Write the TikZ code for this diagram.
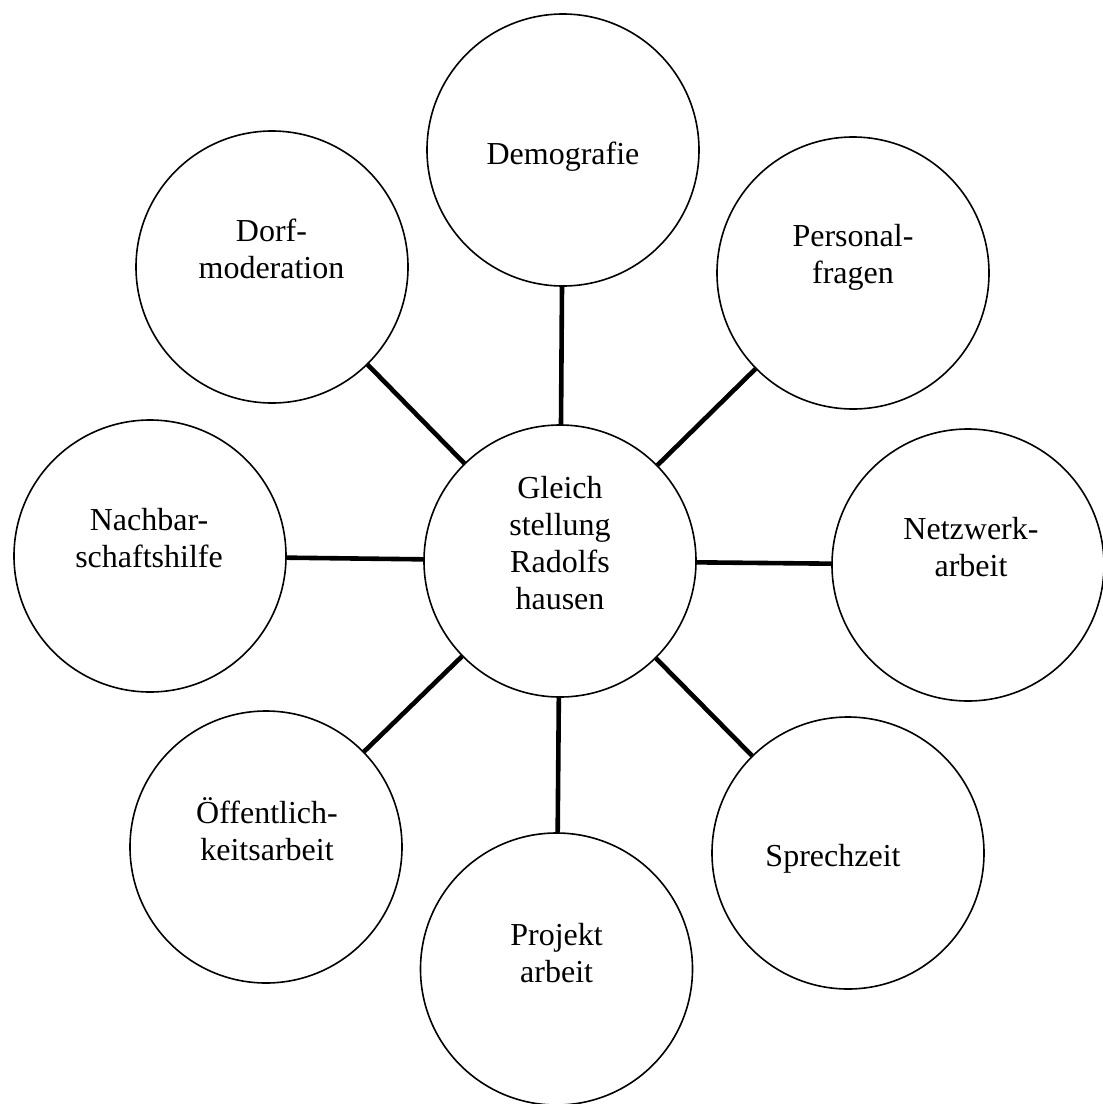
\documentclass[tikz,border=0pt]{standalone}
\usepackage{fontspec}
\setmainfont{Liberation Serif}
\begin{document}
\begin{tikzpicture}[x=0.5pt,y=-0.5pt,
  bubble/.style={circle,draw=black,line width=0.8pt,fill=white,minimum size=136pt,inner sep=0pt},
  bubbletext/.style={align=center,inner sep=0pt,font=\fontsize{16pt}{18.5pt}\selectfont,
    execute at begin node=\strut,execute at end node=\strut},
  conn/.style={line width=2.3pt}]
\useasboundingbox[fill=white] (0,0) rectangle (1103,1104);
% circles
\node[bubble] (c)    at (560,561) {};
\node[bubble] (demo) at (563,150) {};
\node[bubble] (pers) at (853,273) {};
\node[bubble] (netz) at (968,565) {};
\node[bubble] (spre) at (848,853) {};
\node[bubble] (proj) at (556.5,969) {};
\node[bubble] (oeff) at (266,847) {};
\node[bubble] (nach) at (150,556) {};
\node[bubble] (dorf) at (272,267) {};
% connectors
\foreach \n in {demo,pers,netz,spre,proj,oeff,nach,dorf}
  \draw[conn] (c) -- (\n);
% texts
\node[bubbletext] (tc) at (560,548) {Gleich\\stellung\\Radolfs\\hausen};
\node[bubbletext] (tdemo) at (563,156.6) {Demografie};
\node[bubbletext] (tpers) at (853,259) {Personal-\\fragen};
\node[bubbletext] (tnetz) at (971,552.6) {Netzwerk-\\arbeit};
\node[bubbletext] (tspre) at (833,858.6) {Sprechzeit};
\node[bubbletext] (tproj) at (556.6,958) {Projekt\\arbeit};
\node[bubbletext] (toeff) at (267,834.6) {Öffentlich-\\keitsarbeit};
\node[bubbletext] (tnach) at (149,543.6) {Nachbar-\\schaftshilfe};
\node[bubbletext] (tdorf) at (271.5,254) {Dorf-\\moderation};
\end{tikzpicture}
\end{document}
